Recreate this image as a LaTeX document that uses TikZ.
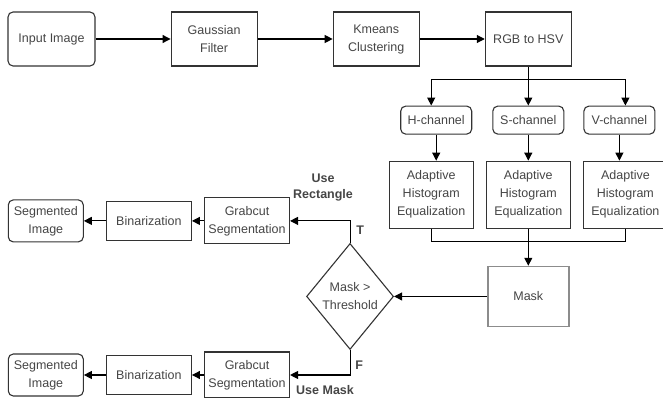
\documentclass[tikz,border=0pt]{standalone}
\usepackage{fontspec}
\setmainfont{Liberation Sans}
\usetikzlibrary{arrows.meta, positioning, shapes.geometric}
\definecolor{ink}{HTML}{454545}
\definecolor{edge}{HTML}{333333}
\definecolor{maskedge}{HTML}{8C8C8C}

\begin{document}
\begin{tikzpicture}[
    font=\fontsize{12.5}{18}\selectfont,
    box/.style={draw=edge, line width=1.1pt, text=ink, align=center, minimum width=86pt, minimum height=54pt, inner sep=2pt},
    rbox/.style={box, rounded corners=5pt},
    chan/.style={rbox, minimum width=71pt, minimum height=28pt},
    ahe/.style={box, minimum width=84pt, minimum height=67pt},
    cutbox/.style={box, minimum width=85pt, minimum height=46pt},
    binbox/.style={box, minimum width=85pt, minimum height=39pt},
    segbox/.style={rbox, minimum width=75pt, minimum height=42pt},
    maskbox/.style={box, draw=maskedge, line width=1.4pt, minimum width=81pt, minimum height=60pt},
    test/.style={diamond, draw=edge, line width=1.1pt, text=ink, align=center, minimum width=87pt, minimum height=106pt, inner sep=0pt},
    lbl/.style={font=\fontsize{12.5}{16}\selectfont\bfseries, text=ink, align=center, inner sep=0pt},
    arr/.style={-{Triangle[length=8pt, width=8pt]}, draw=black, line width=1.1pt},
    wire/.style={draw=black, line width=1.1pt}
]
    \useasboundingbox (0,0) rectangle (663pt,-398pt);

    \node[rbox, minimum width=87pt] (input) at (51.5pt,-39pt) {Input Image};
    \node[box, right=75pt of input] (gauss) {Gaussian\\Filter};
    \node[box, right=75pt of gauss] (kmeans) {Kmeans\\Clustering};
    \node[box, right=65pt of kmeans] (rgb) {RGB to HSV};

    \node[chan, below=39pt of rgb] (sch) {S-channel};
    \node[chan, left=20pt of sch] (hch) {H-channel};
    \node[chan, right=19pt of sch] (vch) {V-channel};

    \node[ahe, below=26pt of sch] (aheS) {Adaptive\\Histogram\\Equalization};
    \node[ahe, left=12pt of aheS] (aheH) {Adaptive\\Histogram\\Equalization};
    \node[ahe, right=12pt of aheS] (aheV) {Adaptive\\Histogram\\Equalization};

    \node[maskbox, below=37pt of aheS] (mask) {Mask};
    \node[test, left=93pt of mask] (dec) {Mask >\\Threshold};

    \node[cutbox, left=60pt of dec.north, yshift=22pt] (grab1) {Grabcut\\Segmentation};
    \node[binbox, left=12pt of grab1] (bin1) {Binarization};
    \node[segbox, left=22pt of bin1] (seg1) {Segmented\\Image};

    \node[cutbox, left=60pt of dec.south, yshift=-25pt] (grab2) {Grabcut\\Segmentation};
    \node[binbox, left=12pt of grab2] (bin2) {Binarization};
    \node[segbox, left=22pt of bin2] (seg2) {Segmented\\Image};

    \coordinate (split) at ([yshift=-13pt]rgb.south);
    \coordinate (merge) at ([yshift=-13pt]aheS.south);
    \coordinate (tcorner) at (dec.north |- grab1.east);
    \coordinate (fcorner) at (dec.south |- grab2.east);

    \node[lbl, above=20pt of tcorner, xshift=-27pt] (userect) {Use\\Rectangle};
    \node[lbl, below right=5pt and 6pt of tcorner] (tlbl) {T};
    \node[lbl, above right=5pt and 5pt of fcorner] (flbl) {F};
    \node[lbl, below=10pt of fcorner, xshift=-25pt] (usemask) {Use Mask};

    \draw[arr] (input) -- (gauss);
    \draw[arr] (gauss) -- (kmeans);
    \draw[arr] (kmeans) -- (rgb);

    \draw[wire] (rgb) -- (split);
    \draw[arr] (split) -| (aheH.north |- hch.north);
    \draw[arr] (split) -- (sch);
    \draw[arr] (split) -| (aheV.north |- vch.north);

    \draw[arr] (hch) -- (hch |- aheH.north);
    \draw[arr] (sch) -- (aheS);
    \draw[arr] (vch) -- (vch |- aheV.north);

    \draw[wire] (aheH) |- (merge);
    \draw[wire] (aheV) |- (merge);
    \draw[arr] (aheS) -- (mask);
    \draw[arr] (mask) -- (dec);

    \draw[arr] (dec.north) |- (grab1);
    \draw[arr] (grab1) -- (bin1);
    \draw[arr] (bin1) -- (seg1);

    \draw[arr] (dec.south) |- (grab2);
    \draw[arr] (grab2) -- (bin2);
    \draw[arr] (bin2) -- (seg2);
\end{tikzpicture}
\end{document}
